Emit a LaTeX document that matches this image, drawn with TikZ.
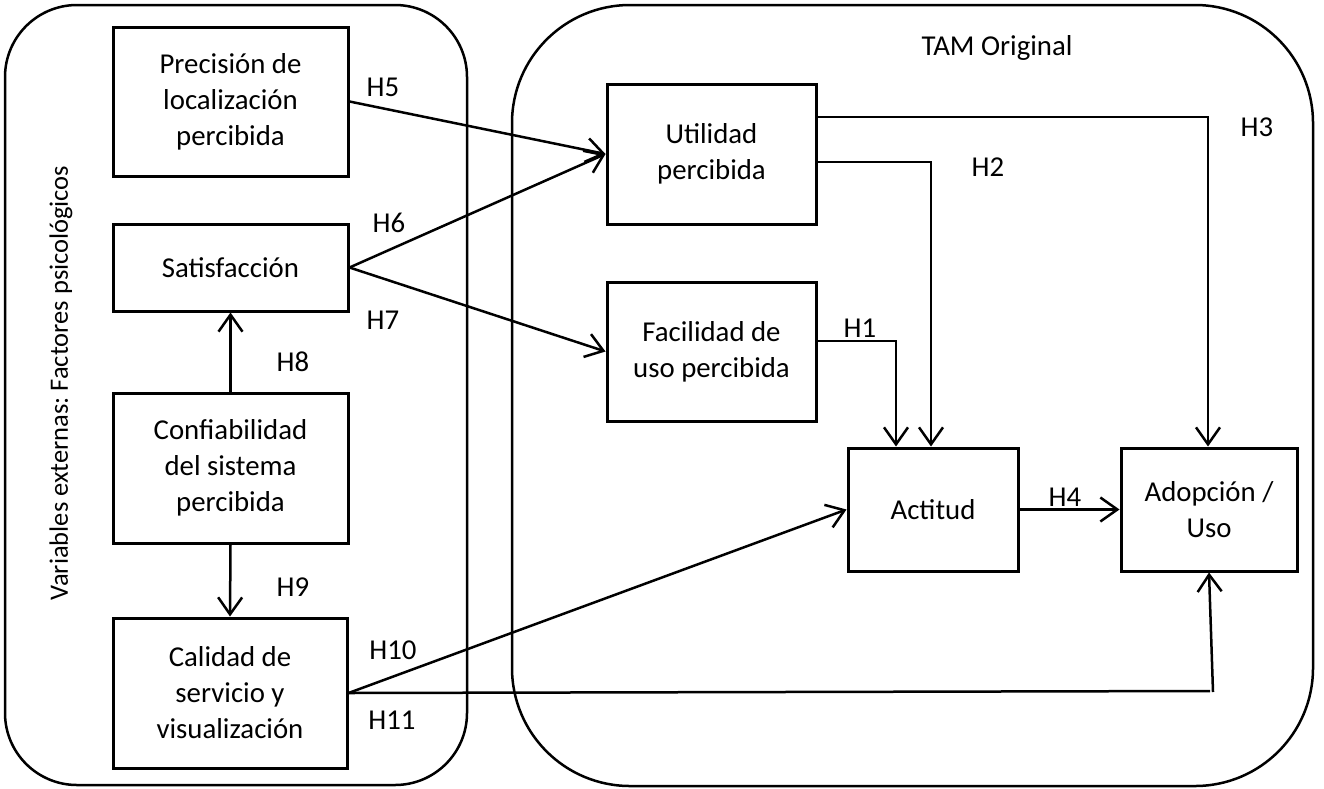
\documentclass[tikz,border=0pt]{standalone}
\usepackage{fontspec}
\setmainfont{Carlito}
\usetikzlibrary{arrows.meta}

\begin{document}
\begin{tikzpicture}[
  x=1pt, y=-1pt,
  font=\fontsize{28.8}{36}\selectfont\frenchspacing,
  conc/.style={draw, line width=3pt, align=center, inner sep=0pt},
  group/.style={draw, line width=2.5pt},
  link/.style={line width=2.5pt},
  arr/.style={link, -{Straight Barb[length=17pt,width=24pt]}},
  hyp/.style={inner sep=0pt}
]
\useasboundingbox (0,0) rectangle (1324,788);

% grouping frames
\draw[group, rounded corners=72pt] (5,5) rectangle (467,785);
\draw[group, rounded corners=118pt] (512,5) rectangle (1313,786);

\node[rotate=90, font=\fontsize{26.5}{32}\selectfont\frenchspacing] (ext) at (61,383) {Variables externas: Factores psicológicos};
\node (tam) at (997,48) {TAM Original};

% external variables
\node[conc, minimum width=235pt, minimum height=149pt] (prec) at (230.5,101.5) {Precisión de\\localización\\percibida};
\node[conc, minimum width=235pt, minimum height=87pt]  (sat)  at (230.5,267.5) {Satisfacción};
\node[conc, minimum width=235pt, minimum height=150pt] (conf) at (230.5,468) {Confiabilidad\\del sistema\\percibida};
\node[conc, minimum width=234pt, minimum height=150pt] (cal)  at (230,693) {Calidad de\\servicio y\\visualización};

% TAM constructs
\node[conc, minimum width=209pt, minimum height=140pt] (util) at (711.5,154) {Utilidad\\percibida};
\node[conc, minimum width=209pt, minimum height=139pt] (fac)  at (711.5,351.5) {Facilidad de\\uso percibida};
\node[conc, minimum width=170pt, minimum height=123pt] (act)  at (933,509.5) {Actitud};
\node[conc, minimum width=176pt, minimum height=123pt] (adop) at (1209,509.5) {Adopción /\\Uso};

% bend points
\coordinate (h1) at (896,341);
\coordinate (h2) at (931,162);
\coordinate (h3) at (1208,117);
\coordinate (h11a) at (1210,691);
\coordinate (h11b) at (1213,692);

% hypotheses
\draw[arr] (prec.east) -- (util.west);
\draw[arr] (sat.east) -- (util.west);
\draw[arr] (sat.east) -- (fac.west);
\draw[arr] (conf.north) -- (sat.south);
\draw[arr] (conf.south) -- (cal.north);
\draw[arr] (cal.east) -- (act.west);
\draw[link] (cal.east) -- (h11a);
\draw[arr] (h11b) -- (adop.south);
\draw[arr] (fac.east |- h1) -- (h1) -- (h1 |- act.north);
\draw[arr] (util.east |- h2) -- (h2) -- (h2 |- act.north);
\draw[arr] (util.east |- h3) -- (h3) -- (h3 |- adop.north);
\draw[arr] (act.east) -- (adop.west);

\node[hyp] (lh5)  at (383,87)   {H5};
\node[hyp] (lh6)  at (389,223)  {H6};
\node[hyp] (lh7)  at (383,320)  {H7};
\node[hyp] (lh8)  at (293,362)  {H8};
\node[hyp] (lh9)  at (293,587)  {H9};
\node[hyp] (lh10) at (393,650)  {H10};
\node[hyp] (lh11) at (392,720)  {H11};
\node[hyp] (lh1)  at (860,328)  {H1};
\node[hyp] (lh2)  at (988,167)  {H2};
\node[hyp] (lh3)  at (1257,127) {H3};
\node[hyp] (lh4)  at (1065,497) {H4};
\end{tikzpicture}
\end{document}
